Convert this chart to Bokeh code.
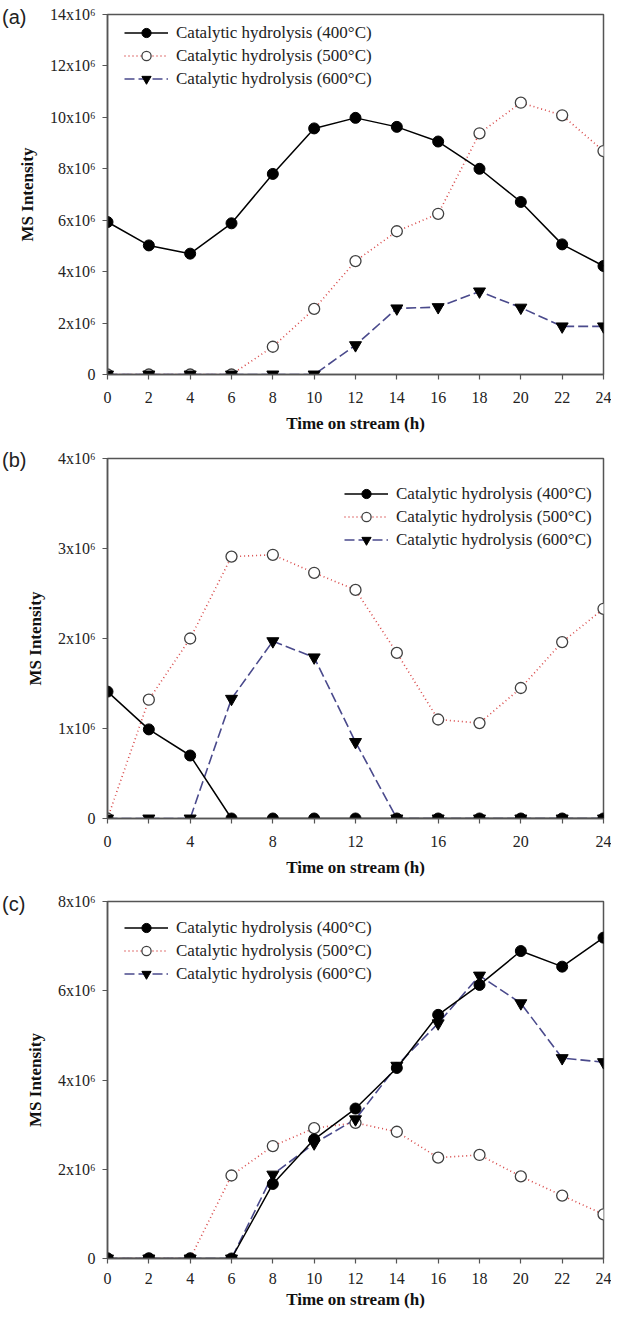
from bokeh.plotting import figure
from bokeh.layouts import column
from bokeh.models import FixedTicker, Legend, LegendItem, Range1d, Div
from bokeh.embed import file_html
from bokeh.resources import INLINE

hours = [0, 2, 4, 6, 8, 10, 12, 14, 16, 18, 20, 22, 24]
series_names = ["Catalytic hydrolysis (400°C)", "Catalytic hydrolysis (500°C)", "Catalytic hydrolysis (600°C)"]
panel_tags = ["(a)", "(b)", "(c)"]

# Panel (a) values, x10^6
a_400 = [5.93, 5.02, 4.70, 5.88, 7.80, 9.57, 9.98, 9.63, 9.06, 8.00, 6.71, 5.06, 4.22]
a_500 = [0, 0, 0, 0, 1.08, 2.55, 4.41, 5.57, 6.25, 9.38, 10.57, 10.08, 8.69]
a_600 = [0, 0, 0, 0, 0, 0, 1.14, 2.57, 2.62, 3.23, 2.60, 1.87, 1.87]

# Panel (b) values, x10^6
b_400 = [1.41, 0.99, 0.70, 0, 0, 0, 0, 0, 0, 0, 0, 0, 0]
b_500 = [0, 1.32, 2.00, 2.91, 2.93, 2.73, 2.54, 1.84, 1.10, 1.06, 1.45, 1.96, 2.33]
b_600 = [0, 0, 0, 1.33, 1.97, 1.79, 0.85, 0, 0, 0, 0, 0, 0]

# Panel (c) values, x10^6
c_400 = [0, 0, 0, 0, 1.67, 2.67, 3.36, 4.27, 5.46, 6.13, 6.89, 6.54, 7.19]
c_500 = [0, 0, 0, 1.86, 2.52, 2.92, 3.04, 2.84, 2.26, 2.32, 1.84, 1.41, 0.99]
c_600 = [0, 0, 0, 0, 1.88, 2.58, 3.12, 4.32, 5.27, 6.34, 5.72, 4.49, 4.40]

a_yticks = [0, 2, 4, 6, 8, 10, 12, 14]
b_yticks = [0, 1, 2, 3, 4]
c_yticks = [0, 2, 4, 6, 8]
a_xlabels = ["0", "2", "4", "6", "8", "10", "12", "14", "16", "18", "20", "22", "24"]
b_xlabels = ["0", "", "4", "", "8", "", "12", "", "16", "", "20", "", "24"]
c_xlabels = a_xlabels

SERIF = "Liberation Serif, Times New Roman, serif"
AXC = "#555555"
RED = "#d84848"
BLUE = "#4a4a8c"


def ylab(v):
    return "0" if v == 0 else f"{v}x10\u2076"


def tag_div(text, top):
    return Div(text=text, width=40, height=0, margin=(0, 0, 0, 0),
               styles={"position": "relative", "top": f"{top}px", "left": "2px", "z-index": "10",
                       "overflow": "visible", "font-family": "Liberation Sans, Arial, sans-serif",
                       "font-size": "20px", "line-height": "20px", "color": "#222222",
                       "white-space": "nowrap"})


def panel(height, bottom, ymax, yticks, xlabels, s400, s500, s600, leg_loc, compact=False):
    p = figure(width=611, height=height, x_range=Range1d(0, 24), y_range=Range1d(0, ymax * 1e6),
               output_backend="svg", toolbar_location=None,
               min_border_left=107, min_border_right=8, min_border_top=14, min_border_bottom=bottom)
    p.xgrid.visible = False
    p.ygrid.visible = False
    p.outline_line_color = AXC
    p.outline_line_width = 1.5
    p.background_fill_color = "white"
    p.border_fill_color = "white"

    y4 = [v * 1e6 for v in s400]
    y5 = [v * 1e6 for v in s500]
    y6 = [v * 1e6 for v in s600]

    l5 = p.line(hours, y5, line_color=RED, line_width=1.6, line_dash="1 3")
    l6 = p.line(hours, y6, line_color=BLUE, line_width=1.6, line_dash="10 4")
    l4 = p.line(hours, y4, line_color="black", line_width=1.5)
    m5 = p.scatter(hours, y5, marker="circle", size=11, fill_color="white", line_color="#404040", line_width=1.3)
    m4 = p.scatter(hours, y4, marker="circle", size=11, fill_color="black", line_color="black")
    m6 = p.scatter(hours, y6, marker="inverted_triangle", size=12, fill_color="black", line_color="black")

    xt = [int(h) for h in hours]
    p.xaxis.ticker = FixedTicker(ticks=xt, minor_ticks=[])
    p.xaxis.major_label_overrides = {t: lab for t, lab in zip(xt, xlabels)}
    yt = [int(v * 1000000) for v in yticks]
    p.yaxis.ticker = FixedTicker(ticks=yt, minor_ticks=[])
    p.yaxis.major_label_overrides = {t: ylab(v) for t, v in zip(yt, yticks)}

    for ax in (p.xaxis[0], p.yaxis[0]):
        ax.axis_line_color = AXC
        ax.axis_line_width = 1.5
        ax.major_tick_line_color = AXC
        ax.major_tick_line_width = 1.2
        ax.major_tick_in = 0
        ax.major_tick_out = 5
        ax.minor_tick_line_color = None
        ax.major_label_text_font = SERIF
        ax.major_label_text_font_size = "16px"
        ax.major_label_text_color = "#222222"
        ax.axis_label_text_font = SERIF
        ax.axis_label_text_font_style = "bold"
        ax.axis_label_text_font_size = "17px"
        ax.axis_label_text_color = "#111111"

    p.xaxis.axis_label = "Time on stream (h)"
    p.yaxis.axis_label = "MS Intensity"
    p.yaxis.major_label_standoff = 7
    p.yaxis.axis_label_standoff = 10
    if compact:
        p.xaxis.major_label_standoff = 9
        p.xaxis.axis_label_standoff = 3
    else:
        p.xaxis.major_label_standoff = 12
        p.xaxis.axis_label_standoff = 8

    legend = Legend(items=[LegendItem(label=series_names[0], renderers=[l4, m4]),
                           LegendItem(label=series_names[1], renderers=[l5, m5]),
                           LegendItem(label=series_names[2], renderers=[l6, m6])],
                    location=leg_loc, padding=0, margin=0, spacing=0,
                    glyph_width=44, glyph_height=23, label_height=23, label_standoff=8,
                    label_text_font=SERIF, label_text_font_size="17px", label_text_color="#222222",
                    border_line_alpha=0, background_fill_alpha=0)
    p.add_layout(legend)
    return p


pa = panel(444, 70, 14, a_yticks, a_xlabels, a_400, a_500, a_600, (17, 284))
pb = panel(443, 69, 4, b_yticks, b_xlabels, b_400, b_500, b_600, (237, 267))
pc = panel(424, 51, 8, c_yticks, c_xlabels, c_400, c_500, c_600, (17, 273), compact=True)

layout = column(tag_div(panel_tags[0], 7), pa, tag_div(panel_tags[1], 6), pb,
                tag_div(panel_tags[2], 7), pc, spacing=0)
open("out.html", "w").write(file_html(layout, INLINE))
